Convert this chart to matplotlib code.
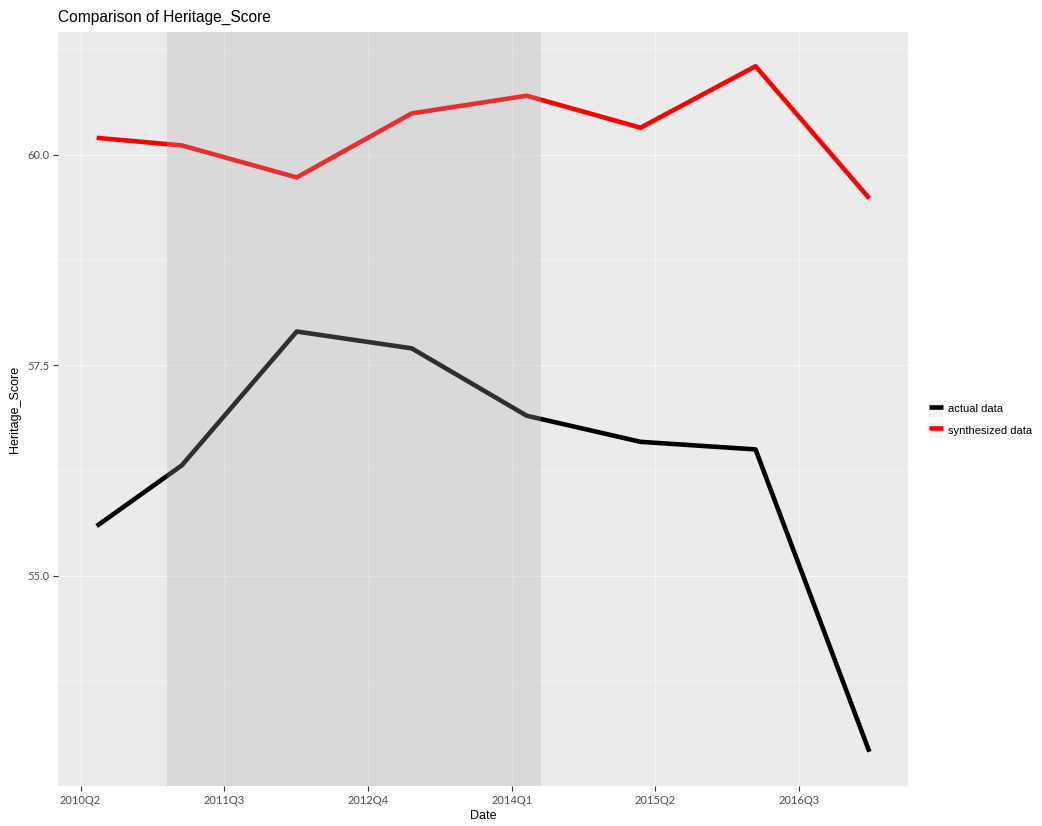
import matplotlib
matplotlib.use("Agg")
import matplotlib.pyplot as plt
from matplotlib.patches import Patch
from matplotlib.legend_handler import HandlerTuple

# data (x as decimal years)
dates = [2010.39, 2011.13, 2012.13, 2013.13, 2014.13, 2015.12, 2016.12, 2017.11]
actual = [55.59, 56.31, 57.90, 57.70, 56.90, 56.59, 56.50, 52.91]
synthesized = [60.20, 60.11, 59.73, 60.49, 60.70, 60.32, 61.05, 59.48]
shade_start, shade_end = 2011.0, 2014.25
tick_pos = [2010.25, 2011.5, 2012.75, 2014.0, 2015.25, 2016.5]
tick_labels = ['2010Q2', '2011Q3', '2012Q4', '2014Q1', '2015Q2', '2016Q3']
ytick_pos = [55.0, 57.5, 60.0]
yminor_pos = [53.75, 56.25, 58.75, 61.25]

plt.rcParams['font.family'] = ['Liberation Sans', 'DejaVu Sans']

fig = plt.figure(figsize=(10.42, 8.26), dpi=100)
ax = fig.add_axes([0.0557, 0.0484, 0.8157, 0.9129])
ax.set_facecolor('#EBEBEB')

l1, = ax.plot(dates, actual, color='black', lw=3.3, solid_capstyle='butt', zorder=3)
l2, = ax.plot(dates, synthesized, color='#FF0000', lw=3.3, solid_capstyle='butt', zorder=3)
ax.axvspan(shade_start, shade_end, color='#ABABAB', alpha=0.28, lw=0, zorder=4)

# ggplot-like expansion
xr = max(dates) - min(dates)
ax.set_xlim(min(dates) - 0.05 * xr, max(dates) + 0.05 * xr)
allv = actual + synthesized
yr = max(allv) - min(allv)
ax.set_ylim(min(allv) - 0.05 * yr, max(allv) + 0.05 * yr)

ax.set_xticks(tick_pos)
ax.set_xticklabels(tick_labels, family=['Lato', 'DejaVu Sans'])
ax.set_yticks(ytick_pos)
ax.set_yticklabels(['%.1f' % v for v in ytick_pos], family=['Lato', 'DejaVu Sans'])
ax.set_yticks(yminor_pos, minor=True)
ax.tick_params(which='major', length=3.5, width=0.8, color='#333333',
               labelcolor='#4D4D4D', labelsize=8, pad=3)
ax.tick_params(which='minor', length=0)
ax.grid(which='major', color='#F7F7F7', lw=0.8, zorder=1)
ax.grid(which='minor', axis='y', color='#F5F5F5', lw=0.6, zorder=1)
ax.set_axisbelow(True)
for s in ax.spines.values():
    s.set_visible(False)

ax.set_xlabel('Date', fontsize=9, labelpad=3)
ax.set_ylabel('Heritage_Score', fontsize=9, labelpad=4)
ax.set_title('Comparison of Heritage_Score', fontsize=11.2, loc='left', pad=7)

# legend with grey key boxes like ggplot
kb = Patch(facecolor='#F2F2F2', edgecolor='none')
k1 = plt.Line2D([], [], color='black', lw=3.3, solid_capstyle='butt')
k2 = plt.Line2D([], [], color='#FF0000', lw=3.3, solid_capstyle='butt')
leg = fig.legend([(kb, k1), (kb, k2)], ['actual data', 'synthesized data'],
                 handler_map={tuple: HandlerTuple(ndivide=1, pad=0)},
                 loc='center left', bbox_to_anchor=(0.886, 0.492), frameon=False,
                 fontsize=8, handlelength=1.3, handleheight=1.8, handletextpad=0.45,
                 labelspacing=0.55, borderpad=0)

fig.savefig('out.png', dpi=100)
